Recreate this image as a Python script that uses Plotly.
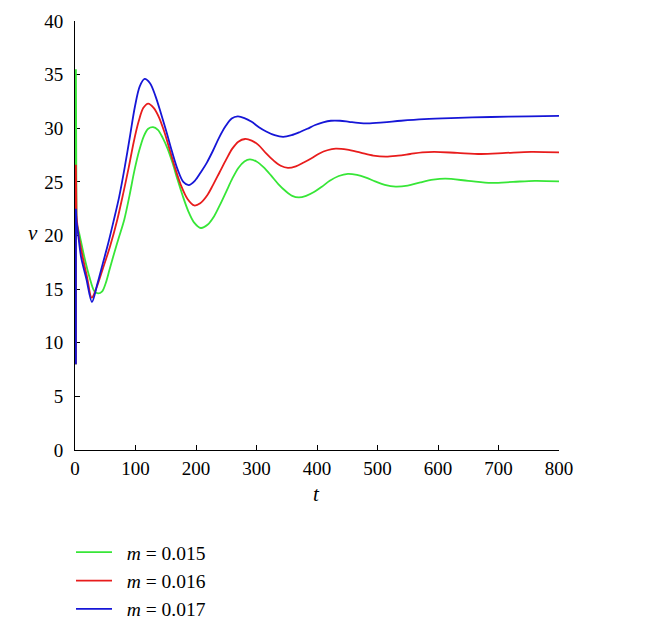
import plotly.graph_objects as go

# ---- data ----
labels = ["m = 0.015", "m = 0.016", "m = 0.017"]
colors = ["rgb(55,230,55)", "rgb(232,28,28)", "rgb(22,22,215)"]

# initial jump near t = 0 (drawn as straight segments)
spike_t = {
    "g": [1.5, 1.5, 2.5],
    "r": [1.5, 1.5, 2.5],
    "b": [1.5, 1.5, 2.5],
}
spike_v = {
    "g": [8.0, 35.5, 21.2],
    "r": [8.0, 26.6, 21.8],
    "b": [8.0, 22.5, 21.3],
}

# m = 0.015 (green)
t_g = [2.5, 7, 15.4, 24, 32, 38, 45, 51, 57, 65, 73, 81.5, 90, 98, 106, 114, 121, 129,
       137, 145, 153, 161, 169, 178, 187, 197, 208, 219, 230, 240, 250, 260, 270, 280, 289,
       300, 312, 324, 336, 348, 359, 370, 382, 395, 408, 421, 436, 451,
       466, 481, 496, 512, 530, 550, 571, 592, 612, 650, 688, 724, 760, 800]
v_g = [21.2, 20.2, 18.0, 16.1, 14.8, 14.6, 14.8, 15.6, 16.8, 18.4, 19.9, 21.5, 23.7, 26.0, 27.9, 29.3, 29.95, 30.1,
       29.85, 29.1, 28.1, 26.8, 25.3, 23.7, 22.3, 21.2, 20.7, 21.0, 21.8, 22.9, 24.1, 25.3, 26.3, 26.9, 27.1,
       26.9, 26.35, 25.6, 24.8, 24.15, 23.7, 23.55, 23.7, 24.05, 24.55, 25.1, 25.55, 25.75,
       25.65, 25.4, 25.05, 24.72, 24.55, 24.65, 24.95, 25.2, 25.3, 25.1, 24.9, 25.0, 25.1, 25.05]

# m = 0.016 (red)
t_r = [2.5, 6, 12.7, 20, 27.6, 36, 46, 58, 70, 80, 89, 97, 105, 113, 121,
       130, 139, 148, 157, 166, 175, 186, 197, 207, 218, 228, 239, 250, 260, 270, 281,
       292, 303, 316, 328, 340, 352, 365, 378, 391, 404, 417, 431, 450, 472, 493, 514,
       534, 554, 574, 594, 632, 671, 712, 754, 800]
v_r = [21.8, 20.0, 18.0, 16.1, 14.2, 15.2, 16.9, 19.0, 21.5, 24.0, 26.4, 28.7, 30.6, 31.9, 32.3,
       31.9, 31.0, 29.6, 27.9, 26.2, 24.7, 23.4, 22.8, 23.0, 23.7, 24.7, 25.9, 27.1, 28.1, 28.75, 29.0,
       28.85, 28.45, 27.65, 27.0, 26.5, 26.3, 26.45, 26.8, 27.2, 27.65, 27.95, 28.1, 28.0, 27.72, 27.45, 27.35,
       27.45, 27.6, 27.75, 27.8, 27.7, 27.6, 27.7, 27.8, 27.75]

# m = 0.017 (blue)
t_b = [2.5, 5, 10, 19, 28, 37, 46, 55, 64, 73, 82, 91, 99, 107, 115,
       124, 133, 142, 151, 160, 170, 179, 188, 198, 208, 218, 228, 238, 249, 259, 269,
       280, 292, 304, 316, 330, 344, 358, 372, 384, 397, 410, 423, 438, 453, 468, 484,
       510, 539, 577, 621, 688, 750, 800]
v_b = [21.3, 20.2, 18.0, 15.9, 13.8, 15.5, 17.4, 19.3, 21.4, 23.6, 26.3, 29.3, 32.0, 33.9, 34.6,
       34.2, 33.0, 31.4, 29.7, 27.9, 26.1, 25.0, 24.7, 25.1, 25.9, 26.8, 27.9, 29.1, 30.2, 30.9, 31.1,
       30.95, 30.6, 30.1, 29.7, 29.35, 29.2, 29.35, 29.65, 29.95, 30.3, 30.55, 30.7, 30.7, 30.6, 30.5, 30.45,
       30.55, 30.7, 30.85, 30.95, 31.05, 31.1, 31.15]

x_ticks = [0, 100, 200, 300, 400, 500, 600, 700, 800]
y_ticks = [0, 5, 10, 15, 20, 25, 30, 35, 40]

series = [("g", t_g, v_g), ("r", t_r, v_r), ("b", t_b, v_b)]

fig = go.Figure()
for i, (key, ts, vs) in enumerate(series):
    fig.add_trace(go.Scatter(
        x=spike_t[key], y=spike_v[key], mode="lines",
        line=dict(color=colors[i], width=1.8, shape="linear"),
        legendgroup=key, showlegend=False, hoverinfo="skip"))
    name = "\u00a0\u00a0<i>m</i> = " + labels[i].split("= ")[1]
    fig.add_trace(go.Scatter(
        x=ts, y=vs, mode="lines", name=name,
        line=dict(color=colors[i], width=1.8, shape="spline", smoothing=0.9),
        legendgroup=key))

serif = "Liberation Serif"
axis_common = dict(
    showline=True, linecolor="black", linewidth=1,
    ticks="inside", ticklen=5, tickcolor="black", tickwidth=1,
    showgrid=False, zeroline=False, mirror=False, layer="below traces",
    tickfont=dict(family=serif, size=19, color="black"),
)
fig.update_xaxes(range=[0, 800], tickvals=x_ticks, ticktext=[str(v) for v in x_ticks],
                 ticklabelstandoff=1, **axis_common)
fig.update_yaxes(range=[0, 40], tickvals=y_ticks, ticktext=[str(v) for v in y_ticks],
                 ticklabelstandoff=7, **axis_common)

# plot area: 484 x 429 px
fig.add_annotation(text="<i>v</i>", xref="paper", yref="paper",
                   x=-42 / 484, y=(429 - 212) / 429, showarrow=False,
                   font=dict(family=serif, size=21, color="black"),
                   xanchor="center", yanchor="middle")
fig.add_annotation(text="<i>t</i>", xref="paper", yref="paper",
                   x=241 / 484, y=-44 / 429, showarrow=False,
                   font=dict(family=serif, size=21, color="black"),
                   xanchor="center", yanchor="middle")

fig.update_layout(
    width=658, height=626,
    margin=dict(l=67, r=107, t=13, b=184, autoexpand=False),
    plot_bgcolor="white", paper_bgcolor="white",
    showlegend=True,
    legend=dict(x=-4 / 484, y=-83 / 429, xanchor="left", yanchor="top",
                font=dict(family=serif, size=19.5, color="black"),
                itemwidth=36, traceorder="grouped", tracegroupgap=0,
                bgcolor="rgba(0,0,0,0)"),
)

fig.write_html("out.html")
